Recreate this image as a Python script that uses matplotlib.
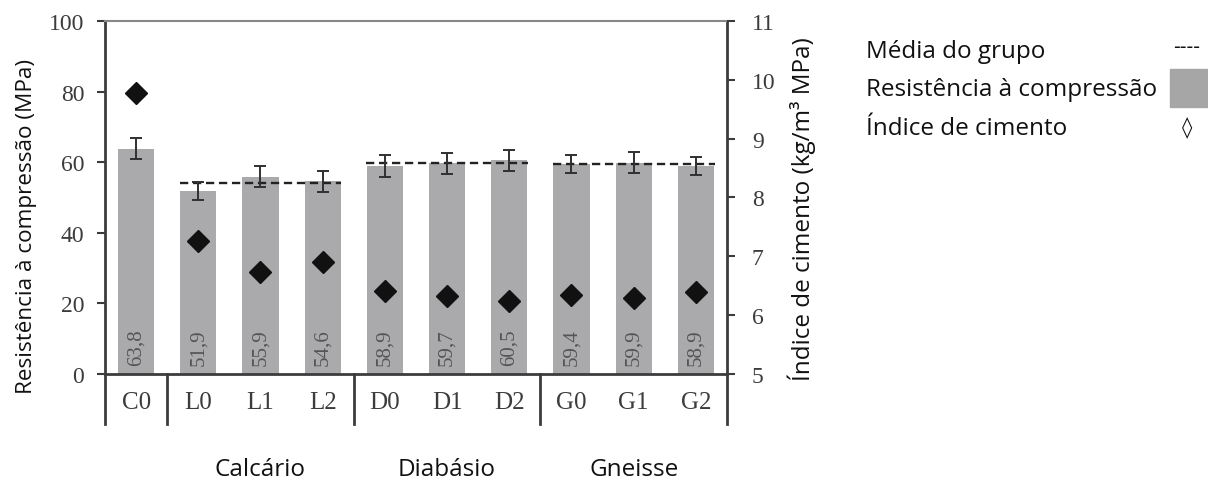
import matplotlib.pyplot as plt
from matplotlib.patches import Rectangle

categories = ['C0', 'L0', 'L1', 'L2', 'D0', 'D1', 'D2', 'G0', 'G1', 'G2']
resistencia = [63.8, 51.9, 55.9, 54.6, 58.9, 59.7, 60.5, 59.4, 59.9, 58.9]
erro = [3.0, 2.5, 3.0, 3.0, 3.0, 3.0, 3.0, 2.5, 3.0, 2.5]
indice = [9.78, 7.26, 6.73, 6.90, 6.41, 6.33, 6.24, 6.34, 6.29, 6.40]
grupos = ['Calcário', 'Diabásio', 'Gneisse']
grupo_idx = [[1, 2, 3], [4, 5, 6], [7, 8, 9]]
media_grupo = [54.1, 59.9, 59.5]

serif = 'Liberation Serif'
sans = 'Open Sans'
dark = '#3c3c3c'
bar_col = '#aaaaad'

fig = plt.figure(figsize=(12.08, 4.81), dpi=100)
ax = fig.add_axes([0.0869, 0.2204, 0.5149, 0.7339])

x = list(range(len(categories)))
ax.bar(x, resistencia, width=0.58, color=bar_col, zorder=1)
ax.errorbar(x, resistencia, yerr=erro, fmt='none', ecolor='#303030',
            elinewidth=1.4, capsize=4, capthick=1.4, zorder=3)

for i, v in zip(x, resistencia):
    ax.text(i, 2.5, f'{v:.1f}'.replace('.', ','), rotation=90, ha='center',
            va='bottom', fontsize=15, family=serif, color='#555555', zorder=4)

for idx, m in zip(grupo_idx, media_grupo):
    ax.plot([idx[0] - 0.3, idx[-1] + 0.3], [m, m], ls=(0, (3.5, 2)),
            color='#222222', lw=1.7, zorder=2)

ax.set_xlim(-0.5, 9.5)
ax.set_ylim(0, 100)
ax.set_yticks([0, 20, 40, 60, 80, 100])
ax.set_xticks(x)
ax.set_xticklabels(categories)
ax.tick_params(axis='x', length=0, pad=12, labelsize=18, labelcolor=dark)
ax.tick_params(axis='y', direction='out', length=6, width=1.5, color=dark,
               labelsize=17, labelcolor=dark, pad=9)
for lab in ax.get_xticklabels() + ax.get_yticklabels():
    lab.set_family(serif)

ax.spines['top'].set_color('#888888')
ax.spines['top'].set_linewidth(1.5)
for s in ['left', 'bottom', 'right']:
    ax.spines[s].set_color(dark)
    ax.spines[s].set_linewidth(2)

ax.set_ylabel('Resistência à compressão (MPa)', family=sans, fontsize=16.2,
              color='#111111')
ax.yaxis.set_label_coords(-0.109, 0.42)

# separadores do eixo x
for xs in [-0.5, 0.5, 3.5, 6.5, 9.5]:
    ax.plot([xs, xs], [0, -0.142], transform=ax.get_xaxis_transform(),
            color=dark, lw=2, clip_on=False)

ax2 = ax.twinx()
ax2.set_ylim(5, 11)
ax2.set_yticks([5, 6, 7, 8, 9, 10, 11])
ax2.plot(x, indice, 'D', color='#111111', markersize=11, zorder=5)
ax2.tick_params(axis='y', direction='out', length=6, width=1.5, color=dark,
                labelsize=17, labelcolor=dark, pad=12)
for lab in ax2.get_yticklabels():
    lab.set_family(serif)
for s in ax2.spines.values():
    s.set_visible(False)
ax2.set_ylabel('Índice de cimento (kg/m³ MPa)', family=sans, fontsize=17.5,
               color='#111111')
ax2.yaxis.set_label_coords(1.098, 0.47)

for nome, idx in zip(grupos, grupo_idx):
    ax.text(idx[1], -0.27, nome, transform=ax.get_xaxis_transform(),
            ha='center', va='center', family=sans, fontsize=17.5, color='#111111')

# legenda
fig.text(866 / 1208, 1 - 52 / 481, 'Média do grupo', family=sans, fontsize=17.5,
         va='center', color='#111111')
fig.text(866 / 1208, 1 - 90 / 481, 'Resistência à compressão', family=sans,
         fontsize=17.5, va='center', color='#111111')
fig.text(866 / 1208, 1 - 129 / 481, 'Índice de cimento', family=sans,
         fontsize=17.5, va='center', color='#111111')
fig.text(1187 / 1208, 1 - 47 / 481, '----', family=sans, fontsize=15,
         ha='center', va='center', color='#111111')
fig.patches.append(Rectangle((1170 / 1208, 1 - 108 / 481), 37 / 1208, 38 / 481,
                             transform=fig.transFigure, color='#a6a6a6'))
fig.text(1187 / 1208, 1 - 128 / 481, '◊', family='DejaVu Sans', fontsize=15,
         ha='center', va='center', color='#111111', fontweight='bold')

fig.savefig('out.png', dpi=100)
